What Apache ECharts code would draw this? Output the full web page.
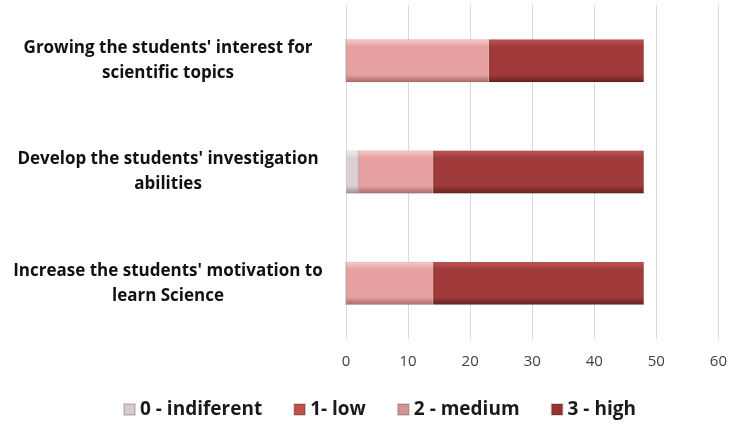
<!DOCTYPE html>
<html>
<head>
<meta charset="utf-8">
<script src="https://cdn.jsdelivr.net/npm/echarts@6/dist/echarts.min.js"></script>
<style>
  html, body { margin: 0; padding: 0; background: #fff; }
  #chart { width: 730px; height: 424px; }
</style>
</head>
<body>
<div id="chart"></div>
<script>
// categories, top to bottom
var categories = [
  "Growing the students' interest for\nscientific topics",
  "Develop the students' investigation\nabilities",
  "Increase the students' motivation to\nlearn Science"
];
var levelNames = ['0 - indiferent', '1- low', '2 - medium', '3 - high'];
var indiferent = [0, 2, 0];
var low = [0, 0, 0];
var medium = [23, 12, 14];
var high = [25, 34, 34];
var xTicks = [0, 10, 20, 30, 40, 50, 60];

// bevel-ish look: light top, base middle, darker bottom
function bevel(top, mid, bottom) {
  return new echarts.graphic.LinearGradient(0, 0, 0, 1, [
    { offset: 0, color: top },
    { offset: 0.18, color: mid },
    { offset: 0.82, color: mid },
    { offset: 1, color: bottom }
  ]);
}

var colors = [
  bevel('#f3ecec', '#ddd0d2', '#9d8e90'),
  bevel('#d46e6b', '#c0504d', '#8a302d'),
  bevel('#f8caca', '#e6a0a0', '#a86c6c'),
  bevel('#bd5656', '#a03a3a', '#652020')
];
var legendColors = ['#d8cbcd', '#c0504d', '#d69394', '#973535'];
var seriesData = [indiferent, low, medium, high];

var chart = echarts.init(document.getElementById('chart'));

var series = levelNames.map(function (name, i) {
  return {
    name: name,
    type: 'bar',
    stack: 'total',
    barWidth: 43,
    data: seriesData[i],
    itemStyle: {
      color: colors[i],
      borderColor: 'rgba(0,0,0,0.15)',
      borderWidth: 0.5
    },
    emphasis: { disabled: true }
  };
});

var option = {
  backgroundColor: '#ffffff',
  animation: false,
  grid: { left: 346, right: 8, top: 5, bottom: 85 },
  legend: {
    bottom: 0,
    left: 118,
    icon: 'rect',
    itemWidth: 11,
    itemHeight: 11,
    itemGap: 31,
    textStyle: {
      fontFamily: 'Open Sans',
      fontWeight: 'bold',
      fontSize: 19,
      color: '#1a1a1a'
    },
    data: levelNames.map(function (n, i) {
      return { name: n, itemStyle: { color: legendColors[i] } };
    })
  },
  xAxis: {
    type: 'value',
    min: 0,
    max: 60,
    interval: 10,
    axisLine: { show: false },
    axisTick: { show: false },
    splitLine: { lineStyle: { color: '#d9d9d9', width: 1 } },
    axisLabel: {
      margin: 15,
      fontFamily: 'Open Sans',
      fontSize: 15,
      color: '#404040',
      formatter: function (v) { return xTicks.indexOf(v) >= 0 ? String(v) : ''; }
    }
  },
  yAxis: {
    type: 'category',
    inverse: true,
    data: categories,
    axisLine: { show: false },
    axisTick: { show: false },
    axisLabel: {
      margin: 178,
      align: 'center',
      lineHeight: 25,
      fontFamily: 'Open Sans',
      fontWeight: 'bold',
      fontSize: 17,
      color: '#111'
    }
  },
  series: series
};

chart.setOption(option);
</script>
</body>
</html>
